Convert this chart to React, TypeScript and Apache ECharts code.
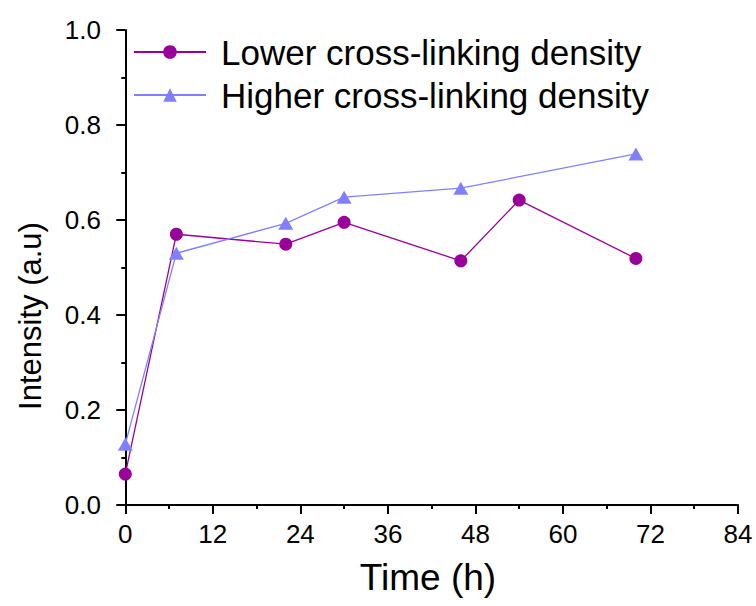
import React, { useEffect, useRef } from "react";
import * as echarts from "echarts";

const lowerX = [0, 7, 22, 30, 46, 54, 70];
const lowerY = [0.065, 0.57, 0.549, 0.595, 0.514, 0.642, 0.519];
const higherX = [0, 7, 22, 30, 46, 70];
const higherY = [0.128, 0.53, 0.593, 0.648, 0.667, 0.739];
const xMajorTicks = [0, 12, 24, 36, 48, 60, 72, 84];
const xMinorTicks = [6, 18, 30, 42, 54, 66, 78];
const seriesNames = ["Lower cross-linking density", "Higher cross-linking density"];

const FONT = "'Liberation Sans', Arial, sans-serif";

export default function App() {
  const ref = useRef<HTMLDivElement>(null);
  useEffect(() => {
    if (!ref.current) return;
    const chart = echarts.init(ref.current, undefined, { renderer: "svg" });
    chart.setOption({
      animation: false,
      backgroundColor: "#ffffff",
      textStyle: { fontFamily: FONT },
      grid: { left: 118, right: 18, top: 30, bottom: 101, containLabel: false },
      legend: {
        orient: "vertical",
        left: 128,
        top: 29,
        itemWidth: 72,
        itemHeight: 17,
        itemGap: 7,
        textStyle: {
          fontFamily: FONT,
          fontSize: 35,
          color: "#000",
          lineHeight: 36,
          padding: [0, 0, 0, 10],
        },
        data: seriesNames,
      },
      xAxis: [
        {
          type: "value",
          min: -1,
          max: 84,
          name: "Time (h)",
          nameLocation: "middle",
          nameGap: 54,
          nameTextStyle: { fontFamily: FONT, fontSize: 37, color: "#000" },
          axisLine: { show: true, lineStyle: { color: "#000", width: 2 } },
          axisTick: {
            show: true,
            inside: false,
            length: 9,
            customValues: xMajorTicks,
            lineStyle: { color: "#000", width: 2 },
          },
          axisLabel: {
            customValues: xMajorTicks,
            fontFamily: FONT,
            fontSize: 26,
            color: "#000",
            margin: 16,
          },
          splitLine: { show: false },
        },
        {
          type: "value",
          min: -1,
          max: 84,
          position: "bottom",
          axisLine: { show: false },
          axisTick: {
            show: true,
            inside: false,
            length: 4,
            customValues: xMinorTicks,
            lineStyle: { color: "#000", width: 2 },
          },
          axisLabel: { show: false },
          splitLine: { show: false },
        },
      ],
      yAxis: {
        type: "value",
        min: 0,
        max: 1,
        interval: 0.2,
        axisLine: { show: true, lineStyle: { color: "#000", width: 2 } },
        axisTick: { show: true, inside: false, length: 9, lineStyle: { color: "#000", width: 2 } },
        minorTick: { show: true, splitNumber: 2, length: 4, lineStyle: { color: "#000", width: 2 } },
        axisLabel: {
          fontFamily: FONT,
          fontSize: 26,
          color: "#000",
          margin: 17,
          formatter: (v: number) => v.toFixed(1),
        },
        splitLine: { show: false },
      },
      graphic: [
        {
          type: "text",
          x: 30,
          y: 316,
          rotation: Math.PI / 2,
          style: {
            text: "Intensity (a.u)",
            font: `31px ${FONT}`,
            fill: "#000",
            align: "center",
            verticalAlign: "middle",
          },
        },
      ],
      series: [
        {
          name: seriesNames[0],
          type: "line",
          xAxisIndex: 0,
          data: lowerX.map((x, i) => [x, lowerY[i]]),
          symbol: "circle",
          symbolSize: 13,
          itemStyle: { color: "#990099" },
          lineStyle: { color: "#990099", width: 1.3 },
        },
        {
          name: seriesNames[1],
          type: "line",
          xAxisIndex: 0,
          data: higherX.map((x, i) => [x, higherY[i]]),
          symbol: "triangle",
          symbolSize: [15, 13],
          itemStyle: { color: "#8080ff" },
          lineStyle: { color: "#8080ff", width: 1.3 },
        },
      ],
    });
    return () => chart.dispose();
  }, []);
  return (
    <div
      ref={ref}
      style={{ position: "fixed", left: 0, top: 0, width: 756, height: 606 }}
    />
  );
}
